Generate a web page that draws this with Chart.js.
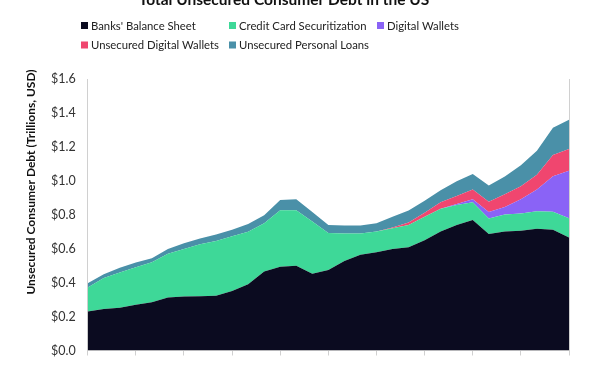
<!DOCTYPE html>
<html lang="en">
  <head>
    <meta charset="UTF-8" />
    <title>Total Unsecured Consumer Debt in the US</title>
    <script src="https://cdn.jsdelivr.net/npm/chart.js"></script>
    <style>
      html, body { margin: 0; padding: 0; background: #fff; overflow: hidden; }
      .wrap { width: 600px; height: 370px; }
    </style>
  </head>
  <body>
    <div class="wrap"><canvas id="divida" width="600" height="370"></canvas></div>
  </body>
</html>
<script>
  // one point per year, tick every 3 years
  const anos = []
  for (let a = 1993; a <= 2023; a++) anos.push(String(a))

  const bancos = [0.23, 0.245, 0.252, 0.27, 0.285, 0.313, 0.318, 0.32, 0.323, 0.35, 0.39, 0.465, 0.494, 0.50, 0.452, 0.475, 0.528, 0.564, 0.579, 0.598, 0.609, 0.65, 0.702, 0.74, 0.769, 0.687, 0.702, 0.706, 0.718, 0.712, 0.666]
  const securitizacao = [0.142, 0.182, 0.208, 0.22, 0.235, 0.257, 0.28, 0.306, 0.322, 0.324, 0.31, 0.285, 0.332, 0.326, 0.308, 0.218, 0.161, 0.125, 0.123, 0.122, 0.131, 0.138, 0.133, 0.118, 0.104, 0.091, 0.099, 0.101, 0.102, 0.105, 0.114]
  const carteiras = [0, 0, 0, 0, 0, 0, 0, 0, 0, 0, 0, 0, 0, 0, 0, 0, 0, 0, 0, 0, 0, 0, 0, 0.005, 0.019, 0.038, 0.044, 0.085, 0.129, 0.21, 0.28]
  const carteirasSemGarantia = [0, 0, 0, 0, 0, 0, 0, 0, 0, 0, 0, 0, 0, 0, 0, 0, 0, 0, 0, 0.005, 0.015, 0.024, 0.038, 0.048, 0.057, 0.061, 0.076, 0.076, 0.086, 0.125, 0.128]
  const emprestimos = [0.025, 0.023, 0.028, 0.028, 0.024, 0.028, 0.034, 0.034, 0.038, 0.038, 0.045, 0.047, 0.061, 0.066, 0.056, 0.047, 0.048, 0.048, 0.048, 0.063, 0.07, 0.071, 0.072, 0.086, 0.091, 0.095, 0.104, 0.124, 0.142, 0.16, 0.172]

  const nomes = ["Banks' Balance Sheet", "Credit Card Securitization", "Digital Wallets", "Unsecured Digital Wallets", "Unsecured Personal Loans"]
  const cores = ["#0b0b20", "#3ed898", "#8a63f6", "#f0466f", "#4a90a8"]
  const series = [bancos, securitizacao, carteiras, carteirasSemGarantia, emprestimos]

  const fonte = "Lato, 'Open Sans', sans-serif"
  const cinza = "#d0d0d0"

  // title, grid legend and axis title drawn by hand
  const extras = {
    id: "extras",
    afterDraw(chart) {
      const ctx = chart.ctx
      ctx.save()
      ctx.fillStyle = "#111"
      ctx.font = "bold 15.5px " + fonte
      ctx.textAlign = "center"
      ctx.textBaseline = "alphabetic"
      ctx.fillText("Total Unsecured Consumer Debt in the US", 284, 5)

      // legend: 3 columns, 2 rows
      ctx.font = "11.3px " + fonte
      ctx.textAlign = "left"
      ctx.textBaseline = "middle"
      const linhas = [25.5, 45]
      const xs = [81, 229, 377]
      chart.data.datasets.forEach((ds, i) => {
        const x = xs[i % 3]
        const y = linhas[Math.floor(i / 3)]
        ctx.fillStyle = ds.backgroundColor
        ctx.fillRect(x, y - 3.5, 7, 7)
        ctx.fillStyle = "#222"
        ctx.fillText(ds.label, x + 10, y + 0.5)
      })

      ctx.translate(31, 182)
      ctx.rotate(-Math.PI / 2)
      ctx.textAlign = "center"
      ctx.font = "bold 12px " + fonte
      ctx.fillStyle = "#111"
      ctx.fillText("Unsecured Consumer Debt (Trillions, USD)", 0, 0)
      ctx.restore()
    },
  }

  const grafico = document.getElementById("divida")
  let divida = new Chart(grafico, {
    type: "line",
    data: {
      labels: anos,
      datasets: series.map((dados, i) => ({
        label: nomes[i],
        data: dados,
        backgroundColor: cores[i],
        borderColor: cores[i],
        borderWidth: 0,
        pointRadius: 0,
        tension: 0,
        fill: i === 0 ? "origin" : "-1",
      })),
    },
    options: {
      responsive: false,
      animation: false,
      devicePixelRatio: 1,
      layout: { padding: { top: 79, left: 39, right: 31, bottom: 5 } },
      plugins: {
        legend: { display: false },
        title: { display: false },
        tooltip: { enabled: false },
      },
      scales: {
        x: {
          offset: false,
          grid: {
            drawOnChartArea: false,
            tickLength: 5,
            color: (c) => (c.index % 3 === 0 ? cinza : "rgba(0,0,0,0)"),
          },
          border: { color: cinza },
          ticks: { display: false, autoSkip: false },
        },
        y: {
          stacked: true,
          min: 0,
          max: 1.6,
          grid: { display: false, drawTicks: false },
          border: { color: cinza },
          ticks: {
            stepSize: 0.2,
            padding: 12,
            color: "#333",
            font: { family: fonte, size: 12.5 },
            callback: (v) => "$" + v.toFixed(1),
          },
        },
        y2: {
          position: "right",
          min: 0,
          max: 1.6,
          grid: { display: false, drawTicks: false },
          border: { display: true, color: cinza },
          ticks: { display: false },
        },
      },
    },
    plugins: [extras],
  })
</script>
